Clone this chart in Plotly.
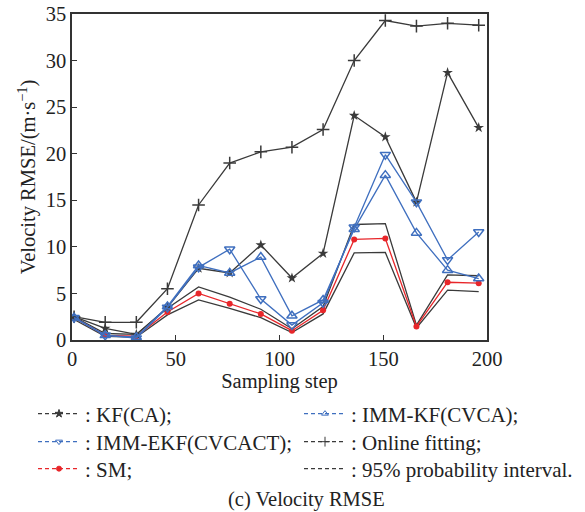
import plotly.graph_objects as go

# Sampling steps at which each RMSE value is recorded
steps = [1, 16, 31, 46, 61, 76, 91, 106, 121, 136, 151, 166, 181, 196]

# Velocity RMSE per method, m/s
kf_ca = [2.5, 1.25, 0.6, 3.5, 7.7, 7.2, 10.2, 6.65, 9.3, 24.1, 21.8, 14.8, 28.7, 22.8]
imm_kf_cvca = [2.4, 0.5, 0.3, 3.6, 8.0, 7.2, 8.9, 2.6, 4.3, 11.9, 17.7, 11.5, 7.5, 6.6]
imm_ekf_cvcact = [2.4, 0.5, 0.2, 3.5, 7.8, 9.75, 4.4, 1.6, 4.0, 12.1, 19.9, 14.8, 8.6, 11.6]
online_fit = [2.5, 1.9, 1.9, 5.5, 14.5, 19.0, 20.2, 20.7, 22.6, 30.0, 34.3, 33.7, 34.0, 33.8]
sm = [2.4, 0.5, 0.4, 3.0, 5.0, 3.9, 2.8, 1.0, 3.2, 10.8, 10.9, 1.45, 6.2, 6.1]
ci_upper = [2.5, 0.7, 0.6, 3.4, 5.7, 4.6, 3.3, 1.2, 3.6, 12.4, 12.5, 1.6, 7.0, 6.9]
ci_lower = [2.2, 0.4, 0.3, 2.7, 4.3, 3.4, 2.4, 0.8, 2.8, 9.35, 9.4, 1.3, 5.35, 5.2]

x_ticks = [0, 50, 100, 150, 200]
y_ticks = [0, 5, 10, 15, 20, 25, 30, 35]

BLACK = "#3a3a3a"
BLUE = "#3f6fbf"
RED = "#e8262a"
TEXT = "#222222"
FONT = "Liberation Serif"
FS = 20.5
LEG_FS = 21

# plot-area geometry in pixels
W, H = 585, 512
PL, PR, PT, PB = 72, 487, 14, 340
PW, PH = PR - PL, PB - PT

fig = go.Figure()

# confidence band edges
for band in (ci_upper, ci_lower):
    fig.add_trace(go.Scatter(x=steps, y=band, mode="lines",
                             line=dict(color=BLACK, width=1.3), showlegend=False))

fig.add_trace(go.Scatter(x=steps, y=sm, mode="lines+markers",
                         line=dict(color=RED, width=1.3),
                         marker=dict(symbol="circle", size=6, color=RED),
                         showlegend=False))
fig.add_trace(go.Scatter(x=steps, y=online_fit, mode="lines+markers",
                         line=dict(color=BLACK, width=1.3),
                         marker=dict(symbol="cross-thin", size=9,
                                     line=dict(color=BLACK, width=1.5)),
                         showlegend=False))
fig.add_trace(go.Scatter(x=steps, y=kf_ca, mode="lines+markers",
                         line=dict(color=BLACK, width=1.3),
                         marker=dict(symbol="star", size=8, color=BLACK),
                         showlegend=False))
fig.add_trace(go.Scatter(x=steps, y=imm_ekf_cvcact, mode="lines+markers",
                         line=dict(color=BLUE, width=1.3),
                         marker=dict(symbol="triangle-down-open", size=9,
                                     color=BLUE, line=dict(color=BLUE, width=1.5)),
                         showlegend=False))
fig.add_trace(go.Scatter(x=steps, y=imm_kf_cvca, mode="lines+markers",
                         line=dict(color=BLUE, width=1.3),
                         marker=dict(symbol="triangle-up-open", size=9,
                                     color=BLUE, line=dict(color=BLUE, width=1.5)),
                         showlegend=False))

# legend-only entries, dashed; each sits in its own legend box
# (left x pixel, row centre y pixel) per entry
dash = "4px,3px"
legend_items = [
    (": KF(CA);", BLACK, "star", 6, 33, 414),
    (": IMM-KF(CVCA);", BLUE, "triangle-up-open", 6, 299, 414),
    (": IMM-EKF(CVCACT);", BLUE, "triangle-down-open", 6, 33, 442),
    (": Online fitting;", BLACK, "cross-thin", 7, 299, 442),
    (": SM;", RED, "circle", 5, 33, 469),
    (": 95% probability interval.", BLACK, None, 0, 299, 469),
]

legend_layouts = {}
for i, (name, color, symbol, size, lx, ly) in enumerate(legend_items):
    key = "legend" if i == 0 else f"legend{i + 1}"
    if symbol is None:
        fig.add_trace(go.Scatter(x=[None], y=[None], mode="lines",
                                 line=dict(color=color, width=1.3, dash=dash),
                                 name=name, legend=key))
    else:
        fig.add_trace(go.Scatter(x=[None], y=[None], mode="lines+markers",
                                 line=dict(color=color, width=1.3, dash=dash),
                                 marker=dict(symbol=symbol, size=size, color=color,
                                             line=dict(color=color, width=1)),
                                 name=name, legend=key))
    legend_layouts[key] = dict(
        orientation="h", x=(lx - PL) / PW, xanchor="left",
        y=-(ly - PB) / PH, yanchor="middle",
        font=dict(family=FONT, size=LEG_FS, color=TEXT),
        itemwidth=42, bgcolor="rgba(0,0,0,0)")

axis_common = dict(
    showgrid=False, zeroline=False, showline=True, mirror=True,
    linecolor="#333333", linewidth=1.5, ticks="inside", ticklen=5,
    tickcolor="#333333", tickwidth=1.2,
    tickfont=dict(family=FONT, size=FS, color=TEXT),
)

fig.update_layout(
    width=W, height=H,
    margin=dict(l=PL, r=W - PR, t=PT, b=H - PB, autoexpand=False),
    paper_bgcolor="white", plot_bgcolor="white",
    font=dict(family=FONT, size=FS, color=TEXT),
    xaxis=dict(range=[0, 200], tickvals=x_ticks,
               title=dict(text="Sampling step", standoff=0,
                          font=dict(family=FONT, size=FS)),
               **axis_common),
    yaxis=dict(range=[0, 35], tickvals=y_ticks,
               title=dict(text="Velocity RMSE/(m·s<sup>−1</sup>)", standoff=4,
                          font=dict(family=FONT, size=FS)),
               **axis_common),
    annotations=[dict(text="(c) Velocity RMSE",
                      x=(306 - PL) / PW, xref="paper",
                      y=-(499 - PB) / PH, yref="paper", yanchor="middle",
                      showarrow=False,
                      font=dict(family=FONT, size=FS, color=TEXT))],
    **legend_layouts,
)

fig.write_html("out.html")
